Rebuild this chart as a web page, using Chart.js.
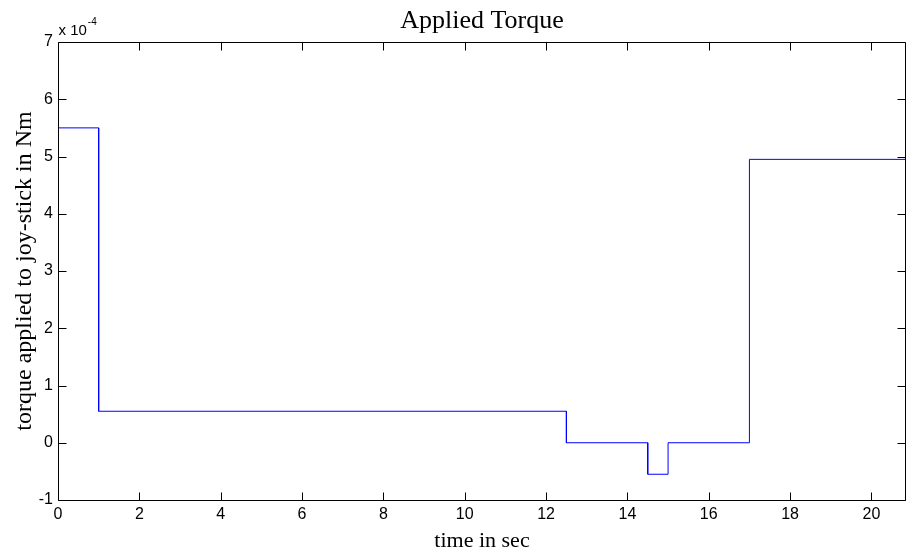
<!DOCTYPE html>
<html>
<head>
<meta charset="utf-8">
<script src="https://cdn.jsdelivr.net/npm/chart.js@4"></script>
<style>
  html, body { margin: 0; padding: 0; background: #fff; }
  #wrap { width: 907px; height: 554px; }
</style>
</head>
<body>
<div id="wrap"><canvas id="torqueChart" width="907" height="554"></canvas></div>
<script>
// step breakpoints (sec); torque level (Nm) held from stepTimes[i] to stepTimes[i+1]
const stepTimes = [0, 1, 12.5, 14.5, 15, 17, 20.85];
const torqueLevels = [5.5e-4, 0.55e-4, 0, -0.55e-4, 0, 4.95e-4];
const xTicks = [0, 2, 4, 6, 8, 10, 12, 14, 16, 18, 20];
const yTicks = [-1e-4, 0, 1e-4, 2e-4, 3e-4, 4e-4, 5e-4, 6e-4, 7e-4];

const points = [];
torqueLevels.forEach((lvl, i) => {
  points.push({ x: stepTimes[i], y: lvl });
  points.push({ x: stepTimes[i + 1], y: lvl });
});

// matlab-like box with inward ticks, exponent label and title over the axes
const matlabAxes = {
  id: 'matlabAxes',
  afterDraw(chart) {
    const { ctx, chartArea: a, scales } = chart;
    const L = Math.round(a.left) + 0.5, R = Math.round(a.right) - 0.5;
    const T = Math.round(a.top) + 0.5, B = Math.round(a.bottom) + 0.5;
    ctx.save();
    ctx.strokeStyle = '#000';
    ctx.lineWidth = 1;
    ctx.beginPath();
    ctx.rect(L, T, R - L, B - T);
    const len = 8;
    scales.x.ticks.forEach(t => {
      const px = Math.round(scales.x.getPixelForValue(t.value)) + 0.5;
      ctx.moveTo(px, B); ctx.lineTo(px, B - len);
      ctx.moveTo(px, T); ctx.lineTo(px, T + len);
    });
    scales.y.ticks.forEach(t => {
      const py = Math.round(scales.y.getPixelForValue(t.value)) + 0.5;
      ctx.moveTo(L, py); ctx.lineTo(L + len, py);
      ctx.moveTo(R, py); ctx.lineTo(R - len, py);
    });
    ctx.stroke();

    ctx.fillStyle = '#000';
    ctx.textBaseline = 'alphabetic';
    ctx.textAlign = 'left';
    ctx.font = '15px "Liberation Sans", Arial, sans-serif';
    ctx.fillText('x 10', L, T - 8);
    const w = ctx.measureText('x 10').width;
    ctx.font = '10px "Liberation Sans", Arial, sans-serif';
    ctx.fillText('-4', L + w + 1, T - 18);

    ctx.textAlign = 'center';
    ctx.font = '26px "Liberation Serif", "Times New Roman", serif';
    ctx.fillText('Applied Torque', (a.left + a.right) / 2, 28);
    ctx.restore();
  }
};

new Chart(document.getElementById('torqueChart'), {
  type: 'line',
  data: {
    datasets: [{
      data: points,
      borderColor: '#0000ff',
      borderWidth: 1,
      pointRadius: 0,
      tension: 0,
      fill: false
    }]
  },
  options: {
    responsive: false,
    animation: false,
    layout: { padding: { left: 0, right: 1, top: 42, bottom: 0 } },
    plugins: {
      legend: { display: false },
      tooltip: { enabled: false },
      title: { display: false }
    },
    scales: {
      x: {
        type: 'linear',
        min: 0,
        max: 20.85,
        afterBuildTicks: s => { s.ticks = xTicks.map(v => ({ value: v })); },
        afterFit: s => { s.height = 54; },
        grid: { display: false, drawTicks: false },
        border: { display: false },
        ticks: {
          color: '#000',
          padding: 5,
          maxRotation: 0,
          font: { family: '"Liberation Sans", Arial, sans-serif', size: 16 }
        },
        title: {
          display: true,
          text: 'time in sec',
          color: '#000',
          padding: { top: 0, bottom: 0 },
          font: { family: '"Liberation Serif", "Times New Roman", serif', size: 22 }
        }
      },
      y: {
        type: 'linear',
        min: -1e-4,
        max: 7e-4,
        afterBuildTicks: s => { s.ticks = yTicks.map(v => ({ value: v })); },
        afterFit: s => { s.width = 58; },
        grid: { display: false, drawTicks: false },
        border: { display: false },
        ticks: {
          color: '#000',
          padding: 5,
          font: { family: '"Liberation Sans", Arial, sans-serif', size: 16 },
          callback: v => String(Math.round(v * 1e4))
        },
        title: {
          display: true,
          text: 'torque applied to joy-stick in Nm',
          color: '#000',
          padding: { top: 10, bottom: 0 },
          font: { family: '"Liberation Serif", "Times New Roman", serif', size: 24 }
        }
      }
    }
  },
  plugins: [matlabAxes]
});
</script>
</body>
</html>
